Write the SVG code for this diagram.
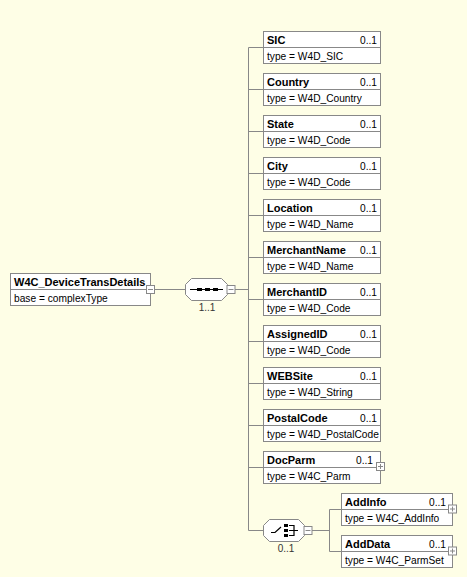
<svg xmlns="http://www.w3.org/2000/svg" width="467" height="577" viewBox="0 0 467 577">
<style>
.bg{fill:#fefee6}
.box{fill:#ffffff;stroke:#888888;stroke-width:1}
.ln{fill:none;stroke:#888888;stroke-width:1}
.t{font-family:"Liberation Sans",Arial,sans-serif;font-size:10.2px;fill:#000}
.b{font-weight:bold;font-size:11px}
.r{text-anchor:end}
.c{font-family:"Liberation Sans",Arial,sans-serif;font-size:10px;fill:#333;text-anchor:middle}
.ic{fill:#ffffff;stroke:#888888;stroke-width:1}
.sg{fill:none;stroke:#888888;stroke-width:1}
.blk{fill:#000}
.bl{fill:none;stroke:#000;stroke-width:1.2}
</style>
<defs>
<g id="minus"><rect class="ic" x="-4" y="-4" width="8" height="8"/><path class="sg" d="M-2.5 0H2.5"/></g>
<g id="plus"><rect class="ic" x="-4" y="-4" width="8" height="8"/><path class="sg" d="M-2.5 0H2.5M0 -2.5V2.5"/></g>
</defs>
<rect class="bg" x="0" y="0" width="467" height="577"/>

<g id="connectors">
<path class="ln" d="M154 289.5H185"/>
<path class="ln" d="M235 289.5H248.5"/>
<path class="ln" d="M248.5 47.5V530.5H263"/>
<path class="ln" d="M248.5 47.5H263.5M248.5 89.5H263.5M248.5 131.5H263.5M248.5 173.5H263.5M248.5 215.5H263.5M248.5 257.5H263.5M248.5 299.5H263.5M248.5 341.5H263.5M248.5 383.5H263.5M248.5 425.5H263.5M248.5 467.5H263.5"/>
<path class="ln" d="M312 530.5H329.5M329.5 509.5V551.5M329.5 509.5H341.5M329.5 551.5H341.5"/>
</g>

<g id="root">
<rect class="box" x="10.5" y="273.5" width="140" height="32"/>
<path class="ln" d="M10.5 289.5H150.5"/>
<text class="t b" x="14" y="285.5">W4C_DeviceTransDetails</text>
<text class="t" x="14" y="301.5">base = complexType</text>
<use href="#minus" x="150.5" y="289.5"/>
</g>

<g id="sequence">
<polygon class="box" points="185.5,284.5 191.5,278.5 221.5,278.5 227.5,284.5 227.5,294.5 221.5,300.5 191.5,300.5 185.5,294.5"/>
<path d="M190 289.5H223" stroke="#000" stroke-width="1"/>
<rect class="blk" x="197" y="288" width="5" height="3"/>
<rect class="blk" x="205" y="288" width="5" height="3"/>
<rect class="blk" x="213" y="288" width="5" height="3"/>
<use href="#minus" x="231" y="289.5"/>
<text class="c" x="207" y="311">1..1</text>
</g>

<g id="SIC">
<rect class="box" x="263.5" y="31.5" width="117" height="32"/>
<path class="ln" d="M263.5 47.5H380.5"/>
<text class="t b" x="267" y="43.5">SIC</text>
<text class="t r" x="377" y="43.5">0..1</text>
<text class="t" x="267" y="59.5">type = W4D_SIC</text>
</g>
<g id="Country">
<rect class="box" x="263.5" y="73.5" width="117" height="32"/>
<path class="ln" d="M263.5 89.5H380.5"/>
<text class="t b" x="267" y="85.5">Country</text>
<text class="t r" x="377" y="85.5">0..1</text>
<text class="t" x="267" y="101.5">type = W4D_Country</text>
</g>
<g id="State">
<rect class="box" x="263.5" y="115.5" width="117" height="32"/>
<path class="ln" d="M263.5 131.5H380.5"/>
<text class="t b" x="267" y="127.5">State</text>
<text class="t r" x="377" y="127.5">0..1</text>
<text class="t" x="267" y="143.5">type = W4D_Code</text>
</g>
<g id="City">
<rect class="box" x="263.5" y="157.5" width="117" height="32"/>
<path class="ln" d="M263.5 173.5H380.5"/>
<text class="t b" x="267" y="169.5">City</text>
<text class="t r" x="377" y="169.5">0..1</text>
<text class="t" x="267" y="185.5">type = W4D_Code</text>
</g>
<g id="Location">
<rect class="box" x="263.5" y="199.5" width="117" height="32"/>
<path class="ln" d="M263.5 215.5H380.5"/>
<text class="t b" x="267" y="211.5">Location</text>
<text class="t r" x="377" y="211.5">0..1</text>
<text class="t" x="267" y="227.5">type = W4D_Name</text>
</g>
<g id="MerchantName">
<rect class="box" x="263.5" y="241.5" width="117" height="32"/>
<path class="ln" d="M263.5 257.5H380.5"/>
<text class="t b" x="267" y="253.5">MerchantName</text>
<text class="t r" x="377" y="253.5">0..1</text>
<text class="t" x="267" y="269.5">type = W4D_Name</text>
</g>
<g id="MerchantID">
<rect class="box" x="263.5" y="283.5" width="117" height="32"/>
<path class="ln" d="M263.5 299.5H380.5"/>
<text class="t b" x="267" y="295.5">MerchantID</text>
<text class="t r" x="377" y="295.5">0..1</text>
<text class="t" x="267" y="311.5">type = W4D_Code</text>
</g>
<g id="AssignedID">
<rect class="box" x="263.5" y="325.5" width="117" height="32"/>
<path class="ln" d="M263.5 341.5H380.5"/>
<text class="t b" x="267" y="337.5">AssignedID</text>
<text class="t r" x="377" y="337.5">0..1</text>
<text class="t" x="267" y="353.5">type = W4D_Code</text>
</g>
<g id="WEBSite">
<rect class="box" x="263.5" y="367.5" width="117" height="32"/>
<path class="ln" d="M263.5 383.5H380.5"/>
<text class="t b" x="267" y="379.5">WEBSite</text>
<text class="t r" x="377" y="379.5">0..1</text>
<text class="t" x="267" y="395.5">type = W4D_String</text>
</g>
<g id="PostalCode">
<rect class="box" x="263.5" y="409.5" width="117" height="32"/>
<path class="ln" d="M263.5 425.5H380.5"/>
<text class="t b" x="267" y="421.5">PostalCode</text>
<text class="t r" x="377" y="421.5">0..1</text>
<text class="t" x="267" y="437.5">type = W4D_PostalCode</text>
</g>
<g id="DocParm">
<rect class="box" x="263.5" y="451.5" width="117" height="32"/>
<path class="ln" d="M263.5 467.5H380.5"/>
<text class="t b" x="267" y="463.5">DocParm</text>
<text class="t r" x="373" y="463.5">0..1</text>
<text class="t" x="267" y="479.5">type = W4C_Parm</text>
<use href="#plus" x="380.5" y="466.5"/>
</g>

<g id="choice">
<polygon class="box" points="263.5,525.5 269.5,519.5 298.5,519.5 304.5,525.5 304.5,535.5 298.5,541.5 269.5,541.5 263.5,535.5"/>
<path class="bl" d="M271 532.5H275L281 527"/>
<rect class="blk" x="284" y="524" width="4" height="3"/>
<rect class="blk" x="284" y="529" width="4" height="3"/>
<rect class="blk" x="284" y="534" width="4" height="3"/>
<path class="bl" d="M289 525.5H294V535.5H289M289 530.5H298"/>
<use href="#minus" x="308" y="530.5"/>
<text class="c" x="286" y="552">0..1</text>
</g>

<g id="AddInfo">
<rect class="box" x="341.5" y="493.5" width="111" height="32"/>
<path class="ln" d="M341.5 509.5H452.5"/>
<text class="t b" x="345" y="505.5">AddInfo</text>
<text class="t r" x="446" y="505.5">0..1</text>
<text class="t" x="345" y="521.5">type = W4C_AddInfo</text>
<use href="#plus" x="452.5" y="509"/>
</g>
<g id="AddData">
<rect class="box" x="341.5" y="535.5" width="111" height="32"/>
<path class="ln" d="M341.5 551.5H452.5"/>
<text class="t b" x="345" y="547.5">AddData</text>
<text class="t r" x="446" y="547.5">0..1</text>
<text class="t" x="345" y="563.5">type = W4C_ParmSet</text>
<use href="#plus" x="452.5" y="551"/>
</g>
</svg>
